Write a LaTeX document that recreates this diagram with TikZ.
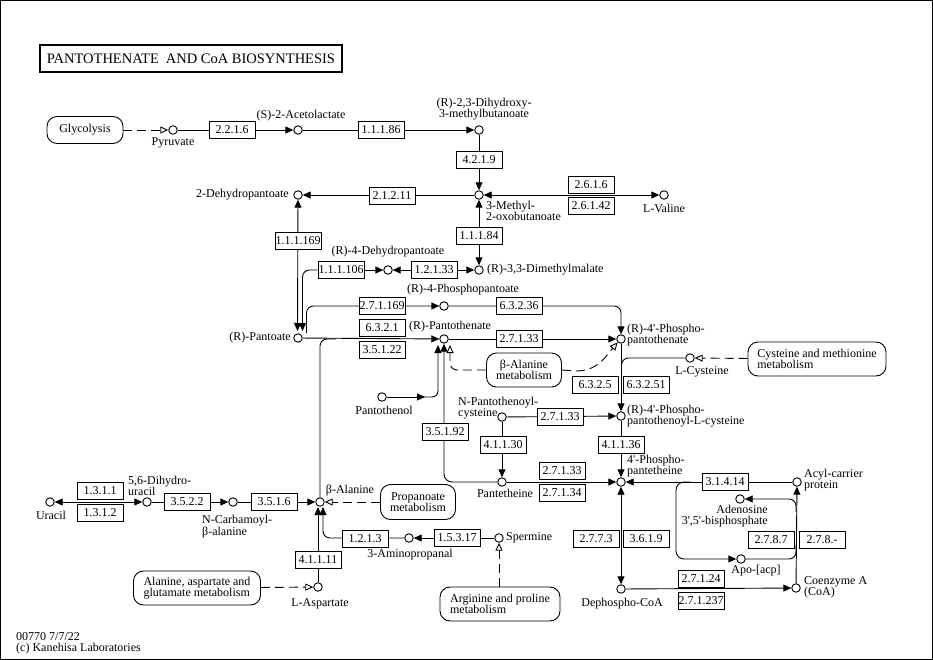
\documentclass[tikz,border=0pt]{standalone}
\usepackage{fontspec}
\setmainfont{Liberation Serif}[Ligatures=TeXOff]
\usetikzlibrary{arrows.meta,calc}
\pgfdeclarelayer{bg}
\pgfsetlayers{bg,main}
\tikzset{
  txt/.style={font=\fontsize{12}{11}\selectfont, inner sep=0pt},
  cpd/.style={circle, draw, fill=white, line width=0.9pt, minimum size=8.5pt, inner sep=0pt},
  enz/.style={draw, fill=white, line width=0.9pt, minimum width=46pt, minimum height=16.5pt, inner sep=0pt, font=\fontsize{12}{11}\selectfont},
  mapbox/.style={draw, fill=white, line width=0.9pt, rounded corners=10pt, inner sep=0pt, font=\fontsize{12}{11}\selectfont},
  conn/.style={line width=0.9pt},
  fa/.style={conn, -{Triangle[length=8pt,width=7pt]}},
  fab/.style={conn, {Triangle[length=8pt,width=7pt]}-{Triangle[length=8pt,width=7pt]}},
  da/.style={conn, dash pattern=on 9pt off 5pt, -{Triangle[open,length=8pt,width=7pt]}},
}
\begin{document}
\begin{tikzpicture}[x=1pt,y=-1pt]
\useasboundingbox (0,0) rectangle (933,660);
\draw[line width=1pt] (0.5,0.5) rectangle (932.5,659.5);

% title
\node[draw, line width=2pt, minimum width=302pt, minimum height=27pt, inner sep=0pt, font=\fontsize{14.5}{14}\selectfont] (title) at (191,58.5) {PANTOTHENATE\hspace{7pt}AND CoA BIOSYNTHESIS};

% footer
\node[txt, anchor=west] (foot1) at (16,637) {00770 7/7/22};
\node[txt, anchor=west] (foot2) at (16,649) {(c) Kanehisa Laboratories};

% map boxes
\node[mapbox, minimum width=76pt, minimum height=27pt] (glyc) at (85,130) {Glycolysis};
\node[mapbox, minimum width=75pt, minimum height=34pt, align=center] (bam) at (524,370) {β-Alanine\\metabolism};
\node[mapbox, minimum width=138pt, minimum height=34pt, align=left] (cysm) at (817,359) {Cysteine and methionine\\metabolism};
\node[mapbox, minimum width=75pt, minimum height=35pt, align=center] (prop) at (418,502) {Propanoate\\metabolism};
\node[mapbox, minimum width=127pt, minimum height=34pt, align=left] (aag) at (197,588) {Alanine, aspartate and\\glutamate metabolism};
\node[mapbox, minimum width=120pt, minimum height=34pt, align=left] (arg) at (500,604) {Arginine and proline\\metabolism};

% compounds
\node[cpd] (pyr) at (173,130) {};
\node[cpd] (acl) at (298,130) {};
\node[cpd] (dhm) at (479,130) {};
\node[cpd] (mob) at (479,195) {};
\node[cpd] (val) at (664,195) {};
\node[cpd] (dhp) at (298,195) {};
\node[cpd] (dmm) at (479,270) {};
\node[cpd] (dhpa) at (388,270) {};
\node[cpd] (pan) at (298,338) {};
\node[cpd] (ppa) at (444,306) {};
\node[cpd] (pth) at (444,339) {};
\node[cpd] (ppt) at (621,339) {};
\node[cpd] (pol) at (382,397) {};
\node[cpd] (cys) at (690,358) {};
\node[cpd] (ppc) at (621,416) {};
\node[cpd] (npc) at (502,417) {};
\node[cpd] (ptt) at (502,482) {};
\node[cpd] (ppe) at (621,482) {};
\node[cpd] (acp) at (797,482) {};
\node[cpd] (ado) at (740,499) {};
\node[cpd] (apo) at (741,559) {};
\node[cpd] (dcoa) at (621,589) {};
\node[cpd] (coa) at (796,588) {};
\node[cpd] (ura) at (50,502) {};
\node[cpd] (dhu) at (147,502) {};
\node[cpd] (ncb) at (233,502) {};
\node[cpd] (bal) at (320,502) {};
\node[cpd] (amp) at (409,538) {};
\node[cpd] (spm) at (499,538) {};
\node[cpd] (asp) at (318,587) {};

% compound labels
\node[txt] (lpyr) at (173,143) {Pyruvate};
\node[txt] (lacl) at (301,116) {(S)-2-Acetolactate};
\node[txt, align=center] (ldhm) at (484,109) {(R)-2,3-Dihydroxy-\\3-methylbutanoate};
\node[txt, anchor=west, align=left] (lmob) at (486,211) {3-Methyl-\\2-oxobutanoate};
\node[txt] (lval) at (664,208) {L-Valine};
\node[txt, anchor=east] (ldhp) at (289,195) {2-Dehydropantoate};
\node[txt, anchor=west] (ldmm) at (487,270) {(R)-3,3-Dimethylmalate};
\node[txt] (ldhpa) at (388,252) {(R)-4-Dehydropantoate};
\node[txt, anchor=east] (lpan) at (291,338) {(R)-Pantoate};
\node[txt] (lppa) at (463,290) {(R)-4-Phosphopantoate};
\node[txt] (lpth) at (450,327) {(R)-Pantothenate};
\node[txt, anchor=west, align=left] (lppt) at (627,335) {(R)-4'-Phospho-\\pantothenate};
\node[txt] (lpol) at (384,410) {Pantothenol};
\node[txt] (lcys) at (702,372) {L-Cysteine};
\node[txt, anchor=west, align=left] (lppc) at (627,416) {(R)-4'-Phospho-\\pantothenoyl-L-cysteine};
\node[txt, anchor=west, align=left] (lnpc) at (458,408) {N-Pantothenoyl-\\cysteine};
\node[txt] (lptt) at (505,493) {Pantetheine};
\node[txt, anchor=west, align=left] (lppe) at (627,466) {4'-Phospho-\\pantetheine};
\node[txt, anchor=west, align=left] (lacp) at (804,480) {Acyl-carrier\\protein};
\node[txt, anchor=east, align=right] (lado) at (768,516) {Adenosine\\3',5'-bisphosphate};
\node[txt] (lapo) at (756,571) {Apo-[acp]};
\node[txt] (ldcoa) at (622,604) {Dephospho-CoA};
\node[txt, anchor=west, align=left] (lcoa) at (804,587) {Coenzyme A\\(CoA)};
\node[txt] (lura) at (51,515) {Uracil};
\node[txt, anchor=west, align=left] (ldhu) at (128,486) {5,6-Dihydro-\\uracil};
\node[txt, anchor=west, align=left] (lncb) at (202,527) {N-Carbamoyl-\\β-alanine};
\node[txt] (lbal) at (350,491) {β-Alanine};
\node[txt] (lamp) at (410,555) {3-Aminopropanal};
\node[txt, anchor=west] (lspm) at (506,538) {Spermine};
\node[txt] (lasp) at (320,604) {L-Aspartate};

% enzymes
\node[enz] (e2216) at (232,130) {2.2.1.6};
\node[enz] (e11186) at (381,130) {1.1.1.86};
\node[enz] (e4219) at (479,160) {4.2.1.9};
\node[enz] (e2616) at (591,185) {2.6.1.6};
\node[enz] (e26142) at (591,206) {2.6.1.42};
\node[enz] (e21211) at (392,196) {2.1.2.11};
\node[enz] (e11184) at (479,236) {1.1.1.84};
\node[enz] (e111169) at (298,241) {1.1.1.169};
\node[enz] (e111106) at (341,270) {1.1.1.106};
\node[enz] (e12133) at (434,270) {1.2.1.33};
\node[enz] (e271169) at (382,306) {2.7.1.169};
\node[enz] (e63236) at (519,306) {6.3.2.36};
\node[enz] (e6321) at (382,328) {6.3.2.1};
\node[enz] (e35122) at (382,350) {3.5.1.22};
\node[enz] (e27133a) at (519,339) {2.7.1.33};
\node[enz] (e6325) at (595,385) {6.3.2.5};
\node[enz] (e63251) at (646,385) {6.3.2.51};
\node[enz] (e27133b) at (560,417) {2.7.1.33};
\node[enz] (e41130) at (503,445) {4.1.1.30};
\node[enz] (e35192) at (445,432) {3.5.1.92};
\node[enz] (e41136) at (621,445) {4.1.1.36};
\node[enz] (e27133c) at (562,471) {2.7.1.33};
\node[enz] (e27134) at (562,493) {2.7.1.34};
\node[enz] (e31414) at (725,482) {3.1.4.14};
\node[enz] (e2787) at (771,540) {2.7.8.7};
\node[enz] (e278x) at (822,540) {2.7.8.-};
\node[enz] (e2773) at (596,539) {2.7.7.3};
\node[enz] (e3619) at (646,539) {3.6.1.9};
\node[enz] (e27124) at (701,579) {2.7.1.24};
\node[enz] (e271237) at (701,601) {2.7.1.237};
\node[enz] (e1311) at (100,491) {1.3.1.1};
\node[enz] (e1312) at (100,513) {1.3.1.2};
\node[enz] (e3522) at (187,502) {3.5.2.2};
\node[enz] (e3516) at (274,502) {3.5.1.6};
\node[enz] (e4111) at (318,560) {4.1.1.11};
\node[enz] (e1213) at (365,539) {1.2.1.3};
\node[enz] (e15317) at (457,538) {1.5.3.17};

% helper coordinates
\coordinate (panL) at (297.5,331);
\coordinate (panR) at (302.5,331);
\coordinate (pan2) at (306.5,333);
\coordinate (balJ) at (336,339);
\coordinate (polM) at (425,397);
\coordinate (polM2) at (420,397);
\coordinate (pthA) at (438,345);
\coordinate (pthC) at (450,345);
\coordinate (bamE) at (576,371);
\coordinate (cysJ) at (621.5,378);
\coordinate (apoS) at (690,482);
\coordinate (apoC) at (676,559);
\coordinate (coaJ) at (796,545);
\coordinate (adoS) at (796,512);
\coordinate (balA) at (318,507);
\coordinate (balB) at (323,507);

\begin{pgfonlayer}{bg}
\draw[da] (glyc) -- (pyr);
\draw[fa] (pyr) -- (acl);
\draw[fa] (acl) -- (dhm);
\draw[fa] (dhm) -- (mob);
\draw[fab] (mob) -- (val);
\draw[fa] (mob) -- (dhp);
\draw[fab] (mob) -- (dmm);
\draw[fab] (dhpa) -- (dmm);
\draw[fa] (e111106) -- (dhpa);
\draw[fa, rounded corners=7pt] (e111106.west) -| (panR);
\draw[fab] (dhp) -- (panL);
\draw[fa, rounded corners=7pt] (pan2) |- (ppa);
\draw[fa, rounded corners=7pt] (ppa) -| (ppt);
\draw[fa] (pan) -- (pth);
\draw[conn, rounded corners=7pt] (bal) |- (balJ);
\draw[fa] (pth) -- (ppt);
\draw[fa] (pol) -- (polM);
\draw[fa, rounded corners=6pt] (polM2) -| (pthA);
\draw[fa, rounded corners=8pt] (ptt) -| (pth);
\draw[da, rounded corners=7pt] (bam) -| (pthC);
\draw[da] (bam.east) -- (bamE) .. controls (598,371) and (606,356) .. (ppt.south west);
\draw[da] (cysm) -- (cys);
\draw[conn, rounded corners=7pt] (cys) -| (cysJ);
\draw[fa] (ppt) -- (ppc);
\draw[fa] (npc) -- (ppc);
\draw[fa] (npc) -- (ptt);
\draw[fa] (ptt) -- (ppe);
\draw[fa] (ppc) -- (ppe);
\draw[fab] (ppe) -- (dcoa);
\draw[fa] (acp) -- (ppe);
\draw[fa, rounded corners=8pt] (apoS) -| (apoC) -- (apo);
\draw[conn, rounded corners=7pt] (apo) -| (coaJ);
\draw[fa] (coa) -- (acp);
\draw[fa, rounded corners=7pt] (adoS) |- (ado);
\draw[fa] (dcoa) -- (coa);
\draw[fab] (ura) -- (dhu);
\draw[fa] (dhu) -- (ncb);
\draw[fa] (ncb) -- (bal);
\draw[da] (prop) -- (bal);
\draw[fa] (asp) -- (balA);
\draw[fa, rounded corners=7pt] (amp) -| (balB);
\draw[fa] (spm) -- (amp);
\draw[da] (arg.north -| spm) -- (spm);
\draw[da] (aag) -- (asp);
\end{pgfonlayer}
\end{tikzpicture}
\end{document}
